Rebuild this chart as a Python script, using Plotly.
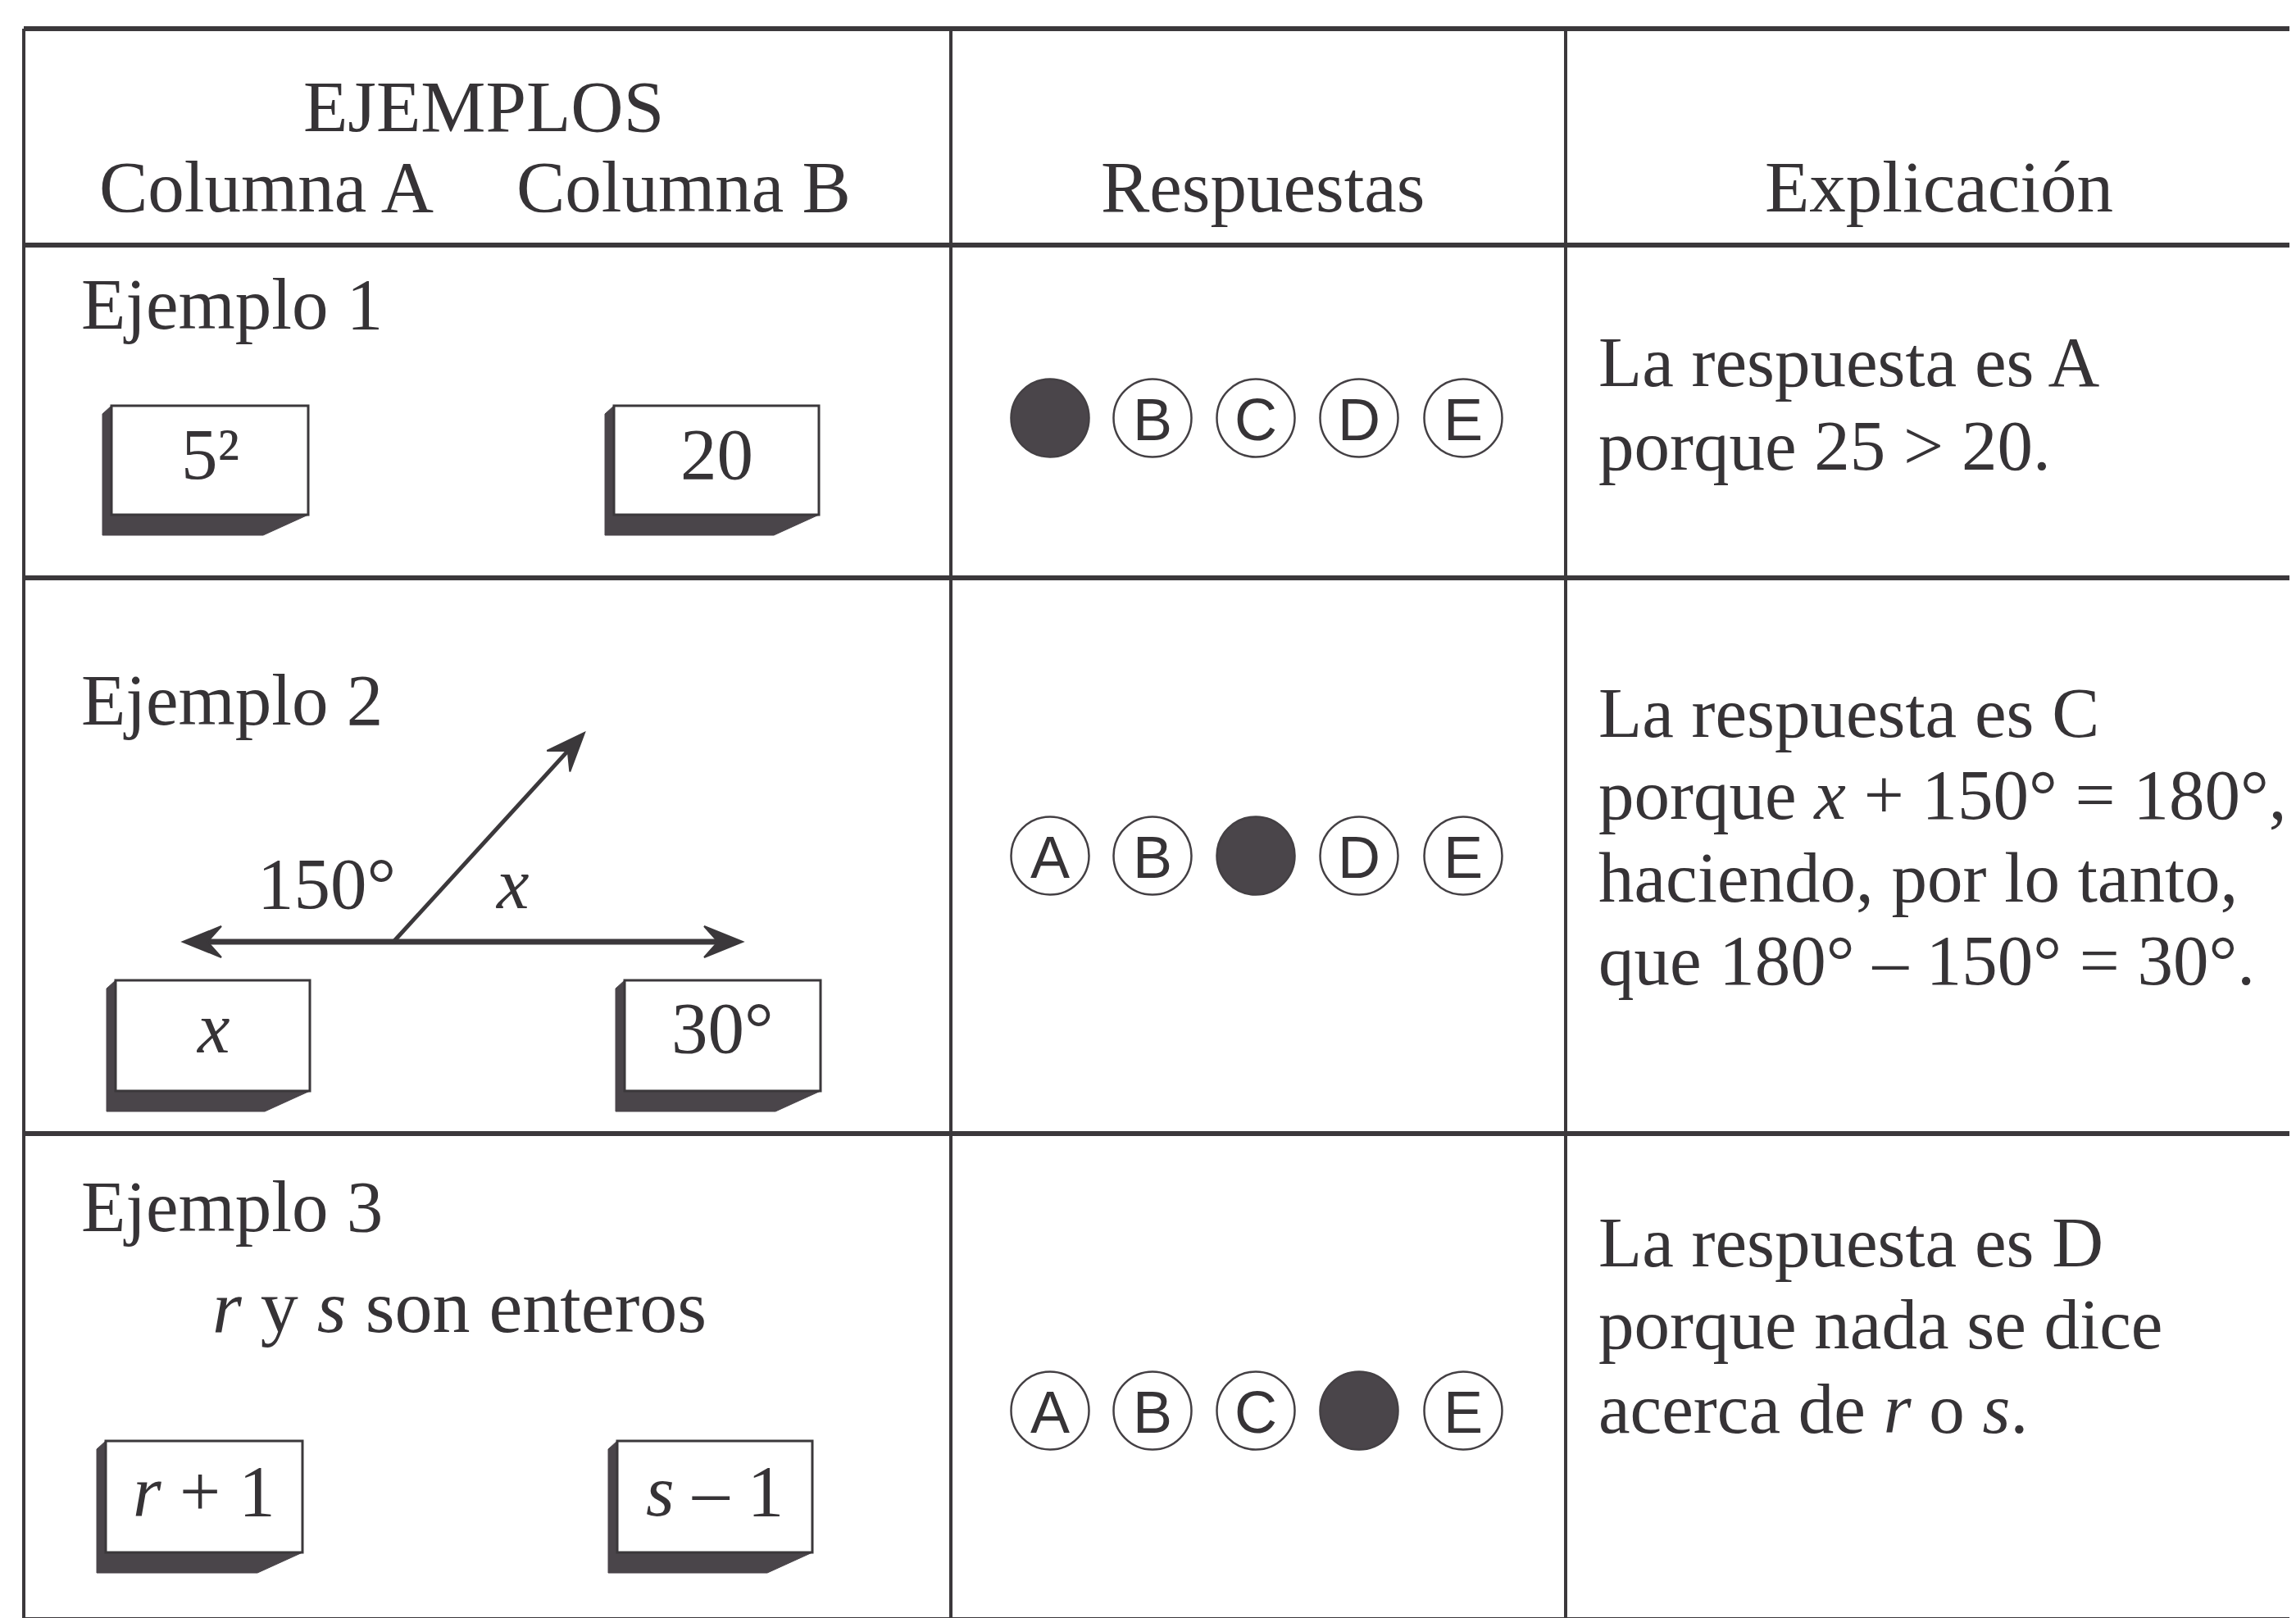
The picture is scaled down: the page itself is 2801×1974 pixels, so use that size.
import math
import plotly.graph_objects as go

W, H = 2801, 1974

# ---------------- data (content of the table) ----------------
header_titles = ["EJEMPLOS", "Respuestas", "Explicación"]
header_subtitles = ["Columna A", "Columna B"]
example_titles = ["Ejemplo 1", "Ejemplo 2", "Ejemplo 3"]
example_conditions = ["", "", "<i>r</i> y <i>s</i> son enteros"]
column_a_values = ["5²", "<i>x</i>", "<i>r</i> + 1"]
column_b_values = ["20", "30°", "<i>s</i> – 1"]
answer_choices = ["A", "B", "C", "D", "E"]
correct_answers = ["A", "C", "D"]
explanations = [
    ["La respuesta es A", "porque 25 &gt; 20."],
    ["La respuesta es C", "porque <i>x</i> + 150° = 180°,",
     "haciendo, por lo tanto,", "que 180° – 150° = 30°."],
    ["La respuesta es D", "porque nada se dice", "acerca de <i>r</i> o <i>s</i>."],
]
angle_labels = ["150°", "<i>x</i>"]

# ---------------- layout geometry (pixels) ----------------
rule_x = [21, 1152, 1902]
rule_y = [27, 291, 697, 1375, 1968]
title_baselines = [402, 885, 1503]
condition_pos = [(258, 1626)]
box_top = [487, 1188, 1750]
box_bottom = [620, 1323, 1886]
box_a_x = [(128, 368), (133, 370), (121, 361)]
box_b_x = [(741, 991), (754, 993), (745, 983)]
box_text_baseline = [585, 1285, 1850]
bubble_x = [1273, 1398, 1524, 1650, 1777]
bubble_y = [502, 1036, 1713]
bubble_d = 95
expl_x = 1949
expl_baselines = [[472, 574], [900, 1000, 1101, 1202], [1546, 1646, 1749]]
angle_vertex = (472, 1141)
angle_tips = [(215, 1141), (898, 1141), (705, 886)]
angle_label_pos = [(390, 1109), (617, 1109)]

INK = "#363336"
RULE = "#3b383b"
SHADOW = "#4a454a"
SERIF = "Liberation Serif, Times New Roman, serif"
SANS = "Liberation Sans Narrow, Liberation Sans, Arial, sans-serif"
FS = 89
FS_EXPL = 87

fig = go.Figure()
shapes = []
annotations = []


def text(x, baseline, s, size=FS, anchor="left", family=SERIF, color=INK):
    yc = baseline - 0.3375 * size - 9
    if anchor == "left":
        x = x - 9
    annotations.append(dict(x=x, y=yc, xref="x", yref="y", text=s, showarrow=False,
                            xanchor=anchor, yanchor="middle",
                            font=dict(family=family, size=size, color=color)))


# table rules
for y in rule_y:
    shapes.append(dict(type="line", x0=rule_x[0], x1=W, y0=y, y1=y,
                       line=dict(color=RULE, width=6)))
for x in rule_x:
    shapes.append(dict(type="line", x0=x, x1=x, y0=rule_y[0], y1=rule_y[-1],
                       line=dict(color=RULE, width=4)))

# header
text(582, 161, header_titles[0], anchor="center")
text(120, 259, header_subtitles[0])
text(629, 259, header_subtitles[1])
text(1533, 259, header_titles[1], anchor="center")
text(2357, 259, header_titles[2], anchor="center")


def box3d(x0, x1, top, bottom):
    path = (f"M{x0-11},{top+10} L{x0},{top} L{x0},{bottom} L{x1},{bottom} "
            f"L{x1-55},{bottom+25} L{x0-11},{bottom+25} Z")
    shapes.append(dict(type="path", path=path, fillcolor=SHADOW,
                       line=dict(color=SHADOW, width=1)))
    shapes.append(dict(type="rect", x0=x0, x1=x1, y0=top, y1=bottom,
                       fillcolor="white", line=dict(color=RULE, width=3)))


for i in range(3):
    text(98, title_baselines[i], example_titles[i])
    if example_conditions[i]:
        cx, cb = condition_pos[0]
        text(cx, cb, example_conditions[i], size=92)
    for (x0, x1), val in ((box_a_x[i], column_a_values[i]), (box_b_x[i], column_b_values[i])):
        box3d(x0, x1, box_top[i], box_bottom[i])
        text((x0 + x1) / 2, box_text_baseline[i], val, anchor="center")
    # answer bubbles
    for j, ch in enumerate(answer_choices):
        cx, cy, r = bubble_x[j], bubble_y[i], bubble_d / 2
        filled = ch == correct_answers[i]
        shapes.append(dict(type="circle", x0=cx - r, x1=cx + r, y0=cy - r, y1=cy + r,
                           fillcolor=SHADOW if filled else "white",
                           line=dict(color="#444044", width=2.5)))
        if not filled:
            annotations.append(dict(x=cx, y=cy + 2, xref="x", yref="y", text=ch,
                                    showarrow=False, xanchor="center", yanchor="middle",
                                    font=dict(family=SANS, size=72, color=INK)))
    # explanation
    for line, b in zip(explanations[i], expl_baselines[i]):
        text(expl_x, b, line, size=FS_EXPL)

# angle diagram (Ejemplo 2)
vx, vy = angle_vertex
for k, (tx, ty) in enumerate(angle_tips):
    dx, dy = tx - vx, ty - vy
    L = math.hypot(dx, dy)
    ux, uy = dx / L, dy / L
    nx, ny = -uy, ux
    ex, ey = tx - 30 * ux, ty - 30 * uy
    shapes.append(dict(type="line", x0=vx, y0=vy, x1=ex, y1=ey,
                       line=dict(color=RULE, width=7 if k < 2 else 5)))
    pts = [(0, 0), (-47, -19), (-30, 0), (-47, 19)]
    coords = [(tx + a * ux + p * nx, ty + a * uy + p * ny) for a, p in pts]
    path = "M" + " L".join(f"{x:.1f},{y:.1f}" for x, y in coords) + " Z"
    shapes.append(dict(type="path", path=path, fillcolor=RULE,
                       line=dict(color=RULE, width=2)))

for (lx, lb), lab in zip(angle_label_pos, angle_labels):
    text(lx, lb, lab, anchor="center")

fig.update_layout(
    width=W, height=H,
    margin=dict(l=0, r=0, t=0, b=0),
    paper_bgcolor="white", plot_bgcolor="white",
    xaxis=dict(range=[0, W], visible=False, fixedrange=True),
    yaxis=dict(range=[H, 0], visible=False, fixedrange=True),
    shapes=shapes, annotations=annotations, showlegend=False,
)
fig.write_html("out.html")
